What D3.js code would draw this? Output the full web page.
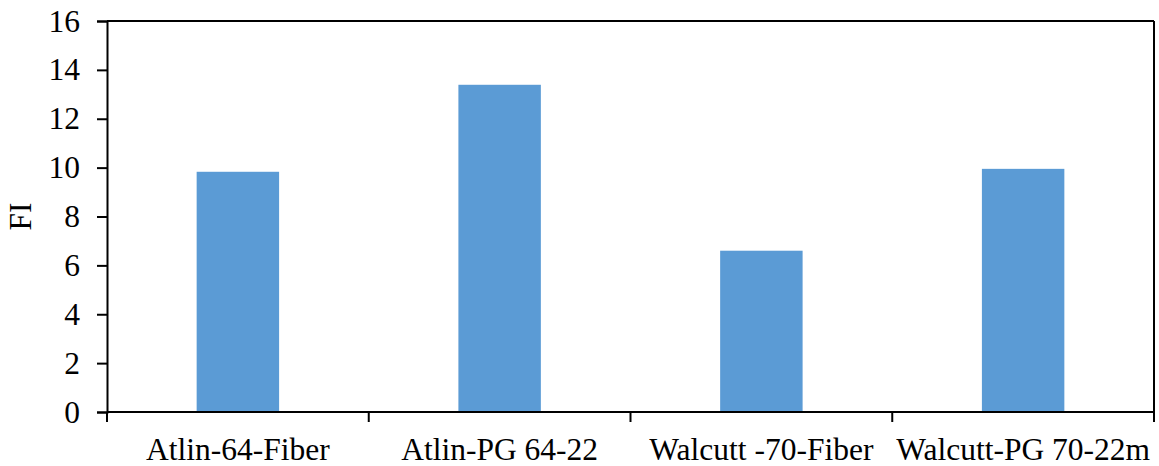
<!DOCTYPE html>
<html>
<head>
<meta charset="utf-8">
<script src="https://cdn.jsdelivr.net/npm/d3@7"></script>
<style>
  html, body { margin: 0; padding: 0; background: #fff; }
  svg { display: block; }
  text { font-family: "Liberation Serif", "Times New Roman", serif; fill: #000; }
</style>
</head>
<body>
<svg id="chart" width="1159" height="466"></svg>
<script>
// Flow index (FI) per mixture
const categories = ["Atlin-64-Fiber", "Atlin-PG 64-22", "Walcutt -70-Fiber", "Walcutt-PG 70-22m"];
const fiValues = [9.83, 13.39, 6.6, 9.95];
const yTicks = [0, 2, 4, 6, 8, 10, 12, 14, 16];

const svg = d3.select("#chart");
const margin = { top: 21, right: 5, bottom: 54, left: 107 };
const W = 1159, H = 466;
const innerW = W - margin.left - margin.right;
const innerH = H - margin.top - margin.bottom;

const g = svg.append("g").attr("transform", `translate(${margin.left},${margin.top})`);

const x = d3.scaleBand().domain(categories).range([0, innerW]).padding(0);
const y = d3.scaleLinear().domain([0, 16]).range([innerH, 0]);

const barFrac = 0.315;
const barW = x.bandwidth() * barFrac;

// Bars
g.selectAll("rect.bar")
  .data(categories.map((c, i) => ({ c, v: fiValues[i] })))
  .join("rect")
  .attr("class", "bar")
  .attr("x", d => x(d.c) + (x.bandwidth() - barW) / 2)
  .attr("y", d => y(d.v))
  .attr("width", barW)
  .attr("height", d => y(0) - y(d.v))
  .attr("fill", "#5B9BD5");

// Plot frame: top and right edges
g.append("line").attr("x1", 0).attr("x2", innerW).attr("y1", 0).attr("y2", 0)
  .attr("stroke", "#000").attr("stroke-width", 2);
g.append("line").attr("x1", innerW).attr("x2", innerW).attr("y1", 0).attr("y2", innerH)
  .attr("stroke", "#000").attr("stroke-width", 2);

// Y axis
const yAxis = g.append("g")
  .call(d3.axisLeft(y).tickValues(yTicks).tickSize(10).tickPadding(17).tickFormat(d3.format("d")));
yAxis.select(".domain").attr("stroke", "#000").attr("stroke-width", 2);
yAxis.selectAll(".tick line").attr("stroke", "#000").attr("stroke-width", 2);
yAxis.selectAll(".tick text")
  .style("font-family", "'Liberation Serif', 'Times New Roman', serif")
  .style("font-size", "31.5px").attr("fill", "#000");

// X axis: ticks at category boundaries
const xAxisG = g.append("g").attr("transform", `translate(0,${innerH})`);
xAxisG.append("line").attr("x1", 0).attr("x2", innerW).attr("y1", 0).attr("y2", 0)
  .attr("stroke", "#000").attr("stroke-width", 2);
const boundaries = categories.map(c => x(c)).concat([innerW]);
xAxisG.selectAll("line.tick")
  .data(boundaries)
  .join("line")
  .attr("class", "tick")
  .attr("x1", d => d).attr("x2", d => d)
  .attr("y1", 0).attr("y2", 10)
  .attr("stroke", "#000").attr("stroke-width", 2);
xAxisG.selectAll("text.lbl")
  .data(categories)
  .join("text")
  .attr("class", "lbl")
  .attr("x", d => x(d) + x.bandwidth() / 2)
  .attr("y", 48)
  .attr("text-anchor", "middle")
  .style("font-size", "31.5px")
  .text(d => d);

// Y axis title
svg.append("text")
  .attr("transform", `translate(31,${margin.top + innerH / 2}) rotate(-90)`)
  .attr("text-anchor", "middle")
  .style("font-size", "31.5px")
  .text("FI");
</script>
</body>
</html>
